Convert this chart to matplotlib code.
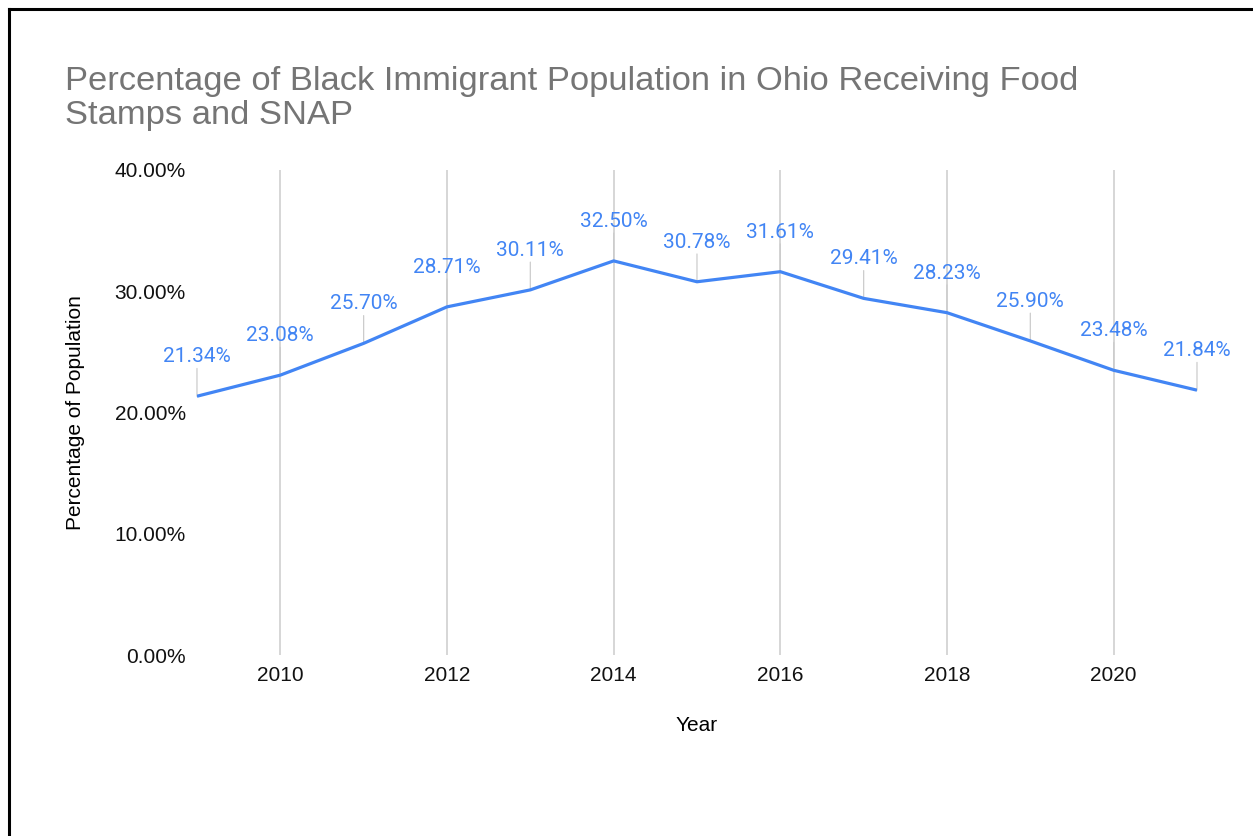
import numpy as np
import matplotlib

matplotlib.use("Agg")
import matplotlib.pyplot as plt
from matplotlib.lines import Line2D
from matplotlib.ticker import FuncFormatter

plt.rcParams["font.family"] = ["Liberation Sans", "DejaVu Sans"]

BLUE = "#4285F4"
GRID = "#CCCCCC"
TITLE_GRAY = "#757575"

years = [2009, 2010, 2011, 2012, 2013, 2014, 2015, 2016, 2017, 2018, 2019, 2020, 2021]
pct = [21.34, 23.08, 25.70, 28.71, 30.11, 32.50, 30.78, 31.61, 29.41, 28.23, 25.90, 23.48, 21.84]
xticks = [2010, 2012, 2014, 2016, 2018, 2020]
yticks = [0, 10, 20, 30, 40]

fig = plt.figure(figsize=(12.53, 8.36), dpi=100)
ax = fig.add_axes([0.1572, 0.2165, 0.7981, 0.5802])

# vertical gridlines only
for xv in xticks:
    ax.axvline(xv, color=GRID, lw=1.1, zorder=1)

ax.plot(years, pct, color=BLUE, lw=2.3, zorder=3, solid_capstyle="butt")

# value labels with short leader lines
for xv, yv in zip(years, pct):
    ax.annotate("", xy=(xv, yv), xytext=(0, 20), textcoords="offset points",
                arrowprops=dict(arrowstyle="-", color=GRID, lw=0.9,
                                shrinkA=0, shrinkB=0), zorder=2)
    ax.annotate(f"{yv:.2f}%", xy=(xv, yv), xytext=(0, 28.5),
                textcoords="offset points", ha="center", va="center",
                fontsize=15, color=BLUE, family=["Roboto", "DejaVu Sans"])

ax.set_xlim(2009, 2021)
ax.set_ylim(0, 40)
ax.set_xticks(xticks)
ax.set_yticks(yticks)
ax.yaxis.set_major_formatter(FuncFormatter(lambda v, _: f"{v:.2f}%"))
ax.tick_params(length=0, labelsize=15, colors="#111111")
ax.tick_params(axis="x", pad=8)
ax.tick_params(axis="y", pad=8)
for s in ax.spines.values():
    s.set_visible(False)

ax.set_xlabel("Year", fontsize=15, labelpad=22)
ax.set_ylabel("Percentage of Population", fontsize=15, labelpad=21)

fig.text(65 / 1253, 1 - 66 / 836,
         "Percentage of Black Immigrant Population in Ohio Receiving Food\nStamps and SNAP",
         fontsize=24.8, color=TITLE_GRAY, ha="left", va="top", linespacing=1.12)

# page frame
fig.add_artist(Line2D([9 / 1253, 9 / 1253], [0, 1 - 9 / 836], transform=fig.transFigure,
                      color="black", lw=2.2))
fig.add_artist(Line2D([9 / 1253, 1], [1 - 9 / 836, 1 - 9 / 836], transform=fig.transFigure,
                      color="black", lw=2.2))

fig.savefig("out.png", dpi=100)
